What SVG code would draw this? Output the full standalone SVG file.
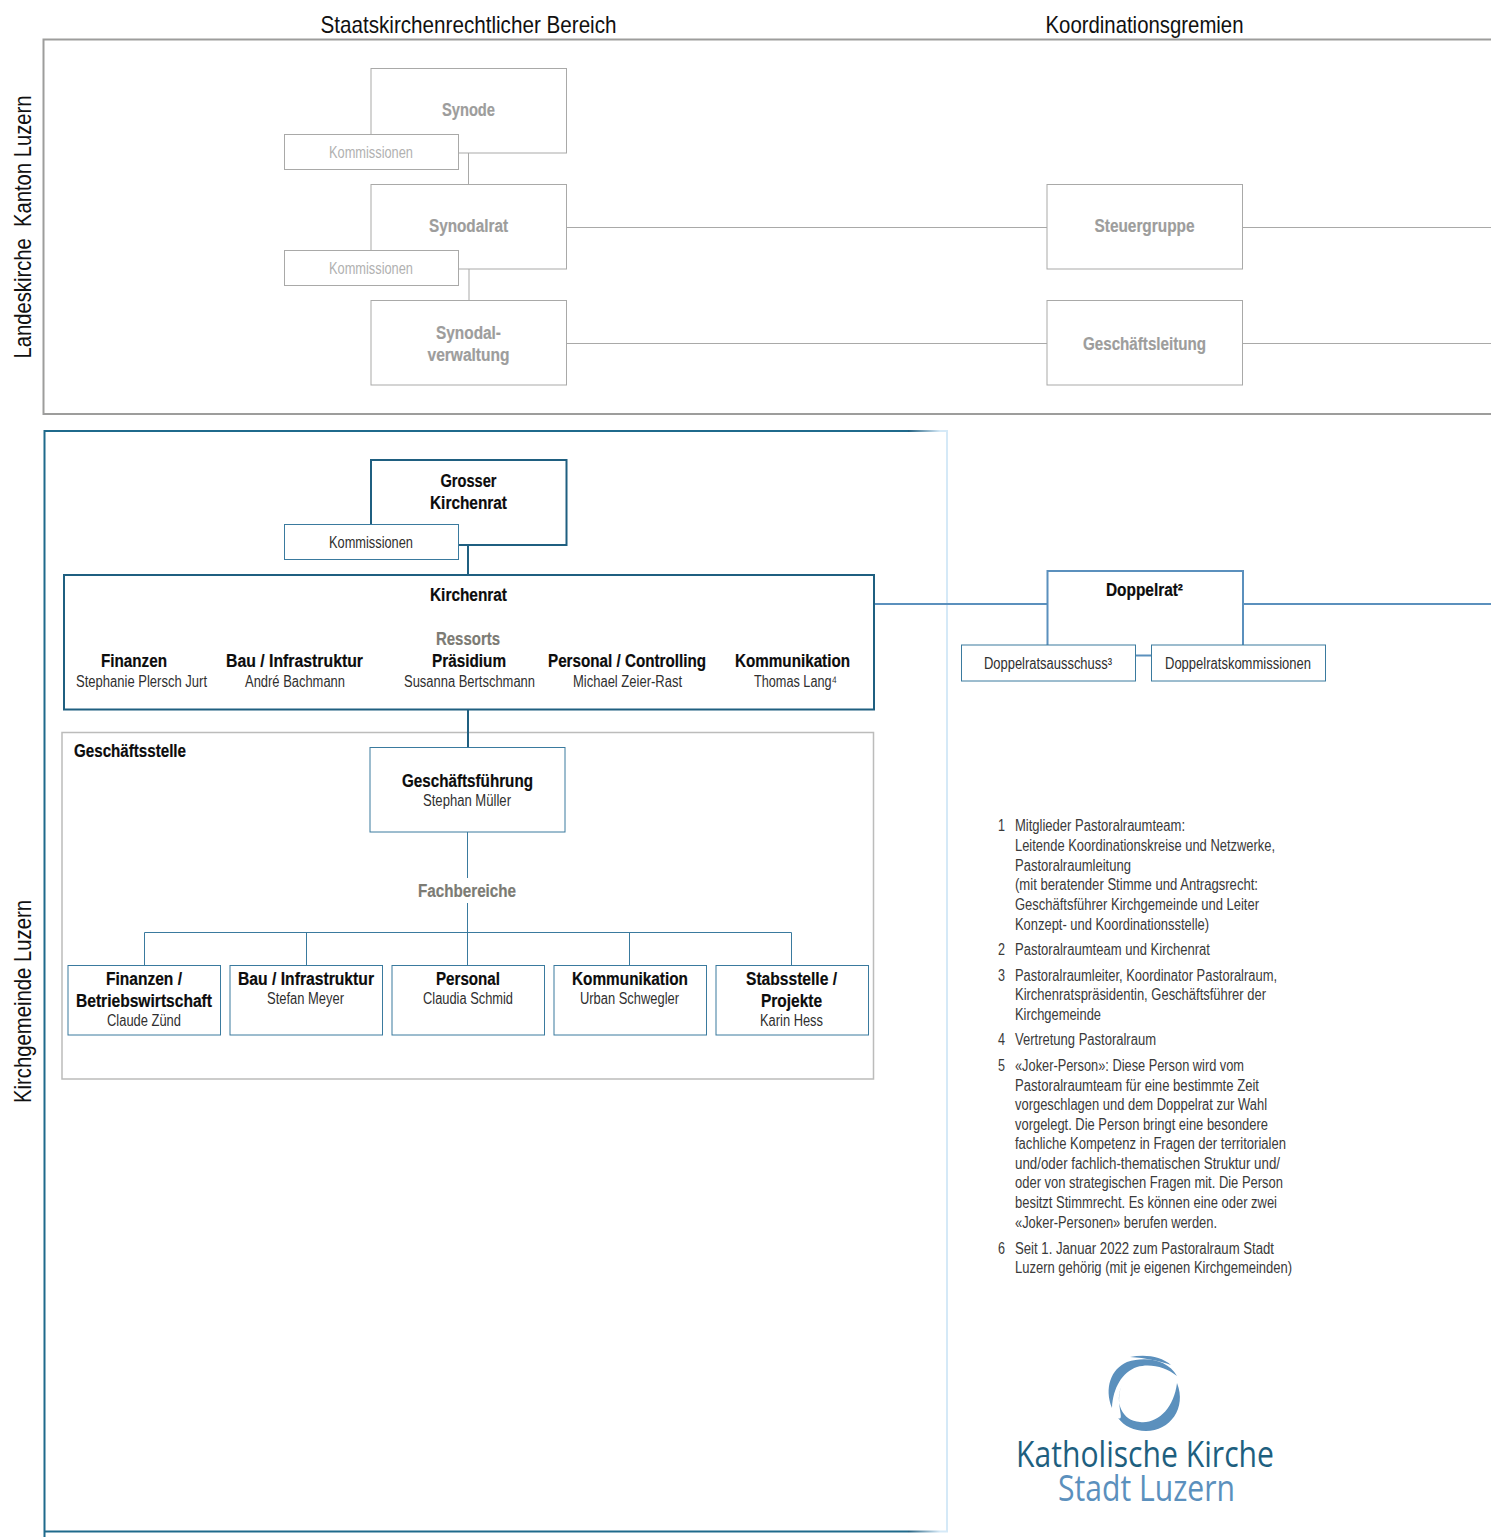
<svg xmlns="http://www.w3.org/2000/svg" width="1491" height="1537" viewBox="0 0 1491 1537">
<style>
text{font-family:"Liberation Sans",Arial,sans-serif;fill:#2f2f2f;font-size:16px;text-anchor:middle}
.t{font-size:24px;fill:#111}
.b{font-weight:bold;font-size:18px;fill:#0c0c0c;stroke:#0c0c0c;stroke-width:.2}
.g{font-weight:bold;font-size:18px;fill:#9d9d9c;stroke:#9d9d9c;stroke-width:.2}
.k{fill:#b1b1b1}
.m{font-weight:bold;font-size:18px;fill:#7c7b74;stroke:#7c7b74;stroke-width:.2}
.n{text-anchor:start;fill:#3a3a3a}
.lg{font-family:"Open Sans","Noto Sans",sans-serif;font-size:36px;fill:#1e5f7f}
.ll{font-family:"Open Sans","Noto Sans",sans-serif;font-size:36px;fill:#5b90bd}
rect{fill:#fff}
.gn{stroke:#a9a9a8;stroke-width:1}
.dk{stroke:#1f5f80;stroke-width:2}
.md{stroke:#3a7a9e;stroke-width:1}
.gs{stroke:#bcbcbb;stroke-width:1.5;fill:#fff}
.c line,.c path{fill:none}
.lgn{stroke:#a9a9a8;stroke-width:1}
.ldk{stroke:#1f5f80;stroke-width:2}
.lmd{stroke:#3a7a9e;stroke-width:1}
.ldr{stroke:#5b90bd;stroke-width:2}
</style>
<defs>
<linearGradient id="fade" gradientUnits="userSpaceOnUse" x1="908" y1="0" x2="940" y2="0">
<stop offset="0" stop-color="#1f5f80"/><stop offset="1" stop-color="#d5e9f7"/>
</linearGradient>
</defs>
<rect width="1491" height="1537"/>

<g id="frames">
<path d="M1491 39.500H43.500V414H1491" fill="none" stroke="#9d9d9c" stroke-width="2"/>
<path d="M947 431V1532" fill="none" stroke="#d5e9f7" stroke-width="2"/>
<path d="M908 431H44.500V1537" fill="none" stroke="#1f6a8c" stroke-width="2"/>
<path d="M44.500 1531.500H908" fill="none" stroke="#1f6a8c" stroke-width="2"/>
<path d="M908 431H948M908 1531.500H948" fill="none" stroke="url(#fade)" stroke-width="2"/>
</g>
<g id="headings">
<text class="t" x="468.500" y="33" textLength="296" lengthAdjust="spacingAndGlyphs">Staatskirchenrechtlicher Bereich</text>
<text class="t" x="1144.500" y="33" textLength="198" lengthAdjust="spacingAndGlyphs">Koordinationsgremien</text>
<text class="t" transform="translate(31,227) rotate(-90)" style="white-space:pre" textLength="263" lengthAdjust="spacingAndGlyphs">Landeskirche  Kanton Luzern</text>
<text class="t" transform="translate(31,1001.500) rotate(-90)" textLength="203" lengthAdjust="spacingAndGlyphs">Kirchgemeinde Luzern</text>
</g>

<g id="node-geschaeftsstelle"><path class="gs" d="M62 732.500H873.500V1079H62Z"/><text class="b" x="130" y="756.500" textLength="112" lengthAdjust="spacingAndGlyphs">Geschäftsstelle</text></g>

<g id="connectors" class="c">
<line class="lgn" x1="468.500" y1="153" x2="468.500" y2="184"/>
<line class="lgn" x1="469" y1="269" x2="469" y2="300"/>
<line class="lgn" x1="566" y1="227.500" x2="1047" y2="227.500"/>
<line class="lgn" x1="566" y1="343.500" x2="1047" y2="343.500"/>
<line class="lgn" x1="1243" y1="227.500" x2="1491" y2="227.500"/>
<line class="lgn" x1="1243" y1="343.500" x2="1491" y2="343.500"/>
<line class="ldk" x1="468" y1="545" x2="468" y2="575"/>
<line class="ldk" x1="468" y1="709" x2="468" y2="748"/>
<line class="ldr" x1="874" y1="604" x2="1047" y2="604"/>
<line class="ldr" x1="1243" y1="604" x2="1491" y2="604"/>
<line class="ldr" x1="1135" y1="655.500" x2="1152" y2="655.500"/>
<line class="lmd" x1="467.500" y1="832" x2="467.500" y2="878"/>
<line class="lmd" x1="467.500" y1="903" x2="467.500" y2="965"/>
<path class="lmd" d="M144.500 965V932.500H791.500V965M306.500 932.500V965M629.500 932.500V965"/>
</g>

<g id="node-synode"><rect class="gn" x="371" y="68.500" width="195.500" height="84.500"/><text class="g" x="468.500" y="116" textLength="53" lengthAdjust="spacingAndGlyphs">Synode</text></g>
<g id="node-kommissionen-1"><rect class="gn" x="284.500" y="134.500" width="174" height="35"/><text class="k" x="371" y="158" textLength="84" lengthAdjust="spacingAndGlyphs">Kommissionen</text></g>
<g id="node-synodalrat"><rect class="gn" x="371" y="184.500" width="195.500" height="84.500"/><text class="g" x="468.500" y="232" textLength="79" lengthAdjust="spacingAndGlyphs">Synodalrat</text></g>
<g id="node-kommissionen-2"><rect class="gn" x="284.500" y="250.500" width="174" height="35"/><text class="k" x="371" y="274" textLength="84" lengthAdjust="spacingAndGlyphs">Kommissionen</text></g>
<g id="node-synodalverwaltung"><rect class="gn" x="371" y="300.500" width="195.500" height="84.500"/><text class="g" x="468.500" y="339" textLength="65" lengthAdjust="spacingAndGlyphs">Synodal-</text><text class="g" x="468.500" y="361" textLength="82" lengthAdjust="spacingAndGlyphs">verwaltung</text></g>
<g id="node-steuergruppe"><rect class="gn" x="1047" y="184.500" width="195.500" height="84.500"/><text class="g" x="1144.500" y="232" textLength="100" lengthAdjust="spacingAndGlyphs">Steuergruppe</text></g>
<g id="node-geschaeftsleitung"><rect class="gn" x="1047" y="300.500" width="195.500" height="84.500"/><text class="g" x="1144.500" y="350" textLength="123" lengthAdjust="spacingAndGlyphs">Geschäftsleitung</text></g>

<g id="node-grosser-kirchenrat"><rect class="dk" x="371" y="460" width="195.500" height="85"/><text class="b" x="468.500" y="487" textLength="56" lengthAdjust="spacingAndGlyphs">Grosser</text><text class="b" x="468.500" y="509" textLength="77" lengthAdjust="spacingAndGlyphs">Kirchenrat</text></g>
<g id="node-kommissionen-3"><rect class="md" x="284.500" y="524.500" width="174" height="35"/><text x="371" y="548" textLength="84" lengthAdjust="spacingAndGlyphs">Kommissionen</text></g>

<g id="node-kirchenrat"><rect class="dk" x="64" y="575" width="810" height="134.500"/>
<text class="b" x="468.500" y="601" textLength="77" lengthAdjust="spacingAndGlyphs">Kirchenrat</text>
<text class="m" x="468" y="645" textLength="64" lengthAdjust="spacingAndGlyphs">Ressorts</text>
<text class="b" x="134" y="667" textLength="66" lengthAdjust="spacingAndGlyphs">Finanzen</text>
<text x="141.500" y="687" textLength="131" lengthAdjust="spacingAndGlyphs">Stephanie Plersch Jurt</text>
<text class="b" x="294.500" y="667" textLength="137" lengthAdjust="spacingAndGlyphs">Bau / Infrastruktur</text>
<text x="295" y="687" textLength="100" lengthAdjust="spacingAndGlyphs">André Bachmann</text>
<text class="b" x="469" y="667" textLength="74" lengthAdjust="spacingAndGlyphs">Präsidium</text>
<text x="469.500" y="687" textLength="131" lengthAdjust="spacingAndGlyphs">Susanna Bertschmann</text>
<text class="b" x="627" y="667" textLength="158" lengthAdjust="spacingAndGlyphs">Personal / Controlling</text>
<text x="627.500" y="687" textLength="109" lengthAdjust="spacingAndGlyphs">Michael Zeier-Rast</text>
<text class="b" x="792.500" y="667" textLength="115" lengthAdjust="spacingAndGlyphs">Kommunikation</text>
<text x="795.500" y="687" textLength="83" lengthAdjust="spacingAndGlyphs">Thomas Lang⁴</text>
</g>

<g id="node-doppelrat"><path d="M1047.500 645V571H1243V645" fill="#fff" stroke="#5b90bd" stroke-width="2"/><text class="b" x="1144.500" y="596" textLength="77" lengthAdjust="spacingAndGlyphs">Doppelrat²</text></g>
<g id="node-doppelratsausschuss"><rect class="md" x="961.500" y="645" width="174" height="36"/><text x="1048" y="669" textLength="128" lengthAdjust="spacingAndGlyphs">Doppelratsausschuss³</text></g>
<g id="node-doppelratskommissionen"><rect class="md" x="1151.500" y="645" width="174" height="36"/><text x="1238" y="669" textLength="146" lengthAdjust="spacingAndGlyphs">Doppelratskommissionen</text></g>

<g id="node-geschaeftsfuehrung"><rect class="md" x="370" y="747.500" width="195" height="84.500"/><text class="b" x="467.500" y="787" textLength="131" lengthAdjust="spacingAndGlyphs">Geschäftsführung</text><text x="467" y="806" textLength="88" lengthAdjust="spacingAndGlyphs">Stephan Müller</text></g>
<g id="label-fachbereiche"><text class="m" x="467" y="897" textLength="98" lengthAdjust="spacingAndGlyphs">Fachbereiche</text></g>

<g id="node-finanzen"><rect class="md" x="68" y="965.500" width="152.500" height="69.500"/><text class="b" x="144" y="985" textLength="76" lengthAdjust="spacingAndGlyphs">Finanzen /</text><text class="b" x="144" y="1007" textLength="136" lengthAdjust="spacingAndGlyphs">Betriebswirtschaft</text><text x="144" y="1026" textLength="74" lengthAdjust="spacingAndGlyphs">Claude Zünd</text></g>
<g id="node-bau"><rect class="md" x="230" y="965.500" width="152.500" height="69.500"/><text class="b" x="306" y="985" textLength="136" lengthAdjust="spacingAndGlyphs">Bau / Infrastruktur</text><text x="305.500" y="1004" textLength="77" lengthAdjust="spacingAndGlyphs">Stefan Meyer</text></g>
<g id="node-personal"><rect class="md" x="392" y="965.500" width="152.500" height="69.500"/><text class="b" x="468" y="985" textLength="64" lengthAdjust="spacingAndGlyphs">Personal</text><text x="468" y="1004" textLength="90" lengthAdjust="spacingAndGlyphs">Claudia Schmid</text></g>
<g id="node-kommunikation"><rect class="md" x="554" y="965.500" width="152.500" height="69.500"/><text class="b" x="630" y="985" textLength="116" lengthAdjust="spacingAndGlyphs">Kommunikation</text><text x="629.500" y="1004" textLength="99" lengthAdjust="spacingAndGlyphs">Urban Schwegler</text></g>
<g id="node-stabsstelle"><rect class="md" x="716" y="965.500" width="152.500" height="69.500"/><text class="b" x="791.500" y="985" textLength="91" lengthAdjust="spacingAndGlyphs">Stabsstelle /</text><text class="b" x="791.500" y="1007" textLength="61" lengthAdjust="spacingAndGlyphs">Projekte</text><text x="791.500" y="1026" textLength="63" lengthAdjust="spacingAndGlyphs">Karin Hess</text></g>

<g id="notes">
<text class="n" x="998" y="831" textLength="7" lengthAdjust="spacingAndGlyphs">1</text>
<text class="n" x="1015" y="831" textLength="170" lengthAdjust="spacingAndGlyphs">Mitglieder Pastoralraumteam:</text>
<text class="n" x="1015" y="851" textLength="260" lengthAdjust="spacingAndGlyphs">Leitende Koordinationskreise und Netzwerke,</text>
<text class="n" x="1015" y="871" textLength="116" lengthAdjust="spacingAndGlyphs">Pastoralraumleitung</text>
<text class="n" x="1015" y="890" textLength="243" lengthAdjust="spacingAndGlyphs">(mit beratender Stimme und Antragsrecht:</text>
<text class="n" x="1015" y="910" textLength="244" lengthAdjust="spacingAndGlyphs">Geschäftsführer Kirchgemeinde und Leiter</text>
<text class="n" x="1015" y="930" textLength="194" lengthAdjust="spacingAndGlyphs">Konzept- und Koordinationsstelle)</text>
<text class="n" x="998" y="955" textLength="7" lengthAdjust="spacingAndGlyphs">2</text>
<text class="n" x="1015" y="955" textLength="195" lengthAdjust="spacingAndGlyphs">Pastoralraumteam und Kirchenrat</text>
<text class="n" x="998" y="981" textLength="7" lengthAdjust="spacingAndGlyphs">3</text>
<text class="n" x="1015" y="981" textLength="262" lengthAdjust="spacingAndGlyphs">Pastoralraumleiter, Koordinator Pastoralraum,</text>
<text class="n" x="1015" y="1000" textLength="251" lengthAdjust="spacingAndGlyphs">Kirchenratspräsidentin, Geschäftsführer der</text>
<text class="n" x="1015" y="1020" textLength="86" lengthAdjust="spacingAndGlyphs">Kirchgemeinde</text>
<text class="n" x="998" y="1045" textLength="7" lengthAdjust="spacingAndGlyphs">4</text>
<text class="n" x="1015" y="1045" textLength="141" lengthAdjust="spacingAndGlyphs">Vertretung Pastoralraum</text>
<text class="n" x="998" y="1071" textLength="7" lengthAdjust="spacingAndGlyphs">5</text>
<text class="n" x="1015" y="1071" textLength="229" lengthAdjust="spacingAndGlyphs">«Joker-Person»: Diese Person wird vom</text>
<text class="n" x="1015" y="1091" textLength="244" lengthAdjust="spacingAndGlyphs">Pastoralraumteam für eine bestimmte Zeit</text>
<text class="n" x="1015" y="1110" textLength="252" lengthAdjust="spacingAndGlyphs">vorgeschlagen und dem Doppelrat zur Wahl</text>
<text class="n" x="1015" y="1130" textLength="253" lengthAdjust="spacingAndGlyphs">vorgelegt. Die Person bringt eine besondere</text>
<text class="n" x="1015" y="1149" textLength="271" lengthAdjust="spacingAndGlyphs">fachliche Kompetenz in Fragen der territorialen</text>
<text class="n" x="1015" y="1169" textLength="265" lengthAdjust="spacingAndGlyphs">und/oder fachlich-thematischen Struktur und/</text>
<text class="n" x="1015" y="1188" textLength="268" lengthAdjust="spacingAndGlyphs">oder von strategischen Fragen mit. Die Person</text>
<text class="n" x="1015" y="1208" textLength="262" lengthAdjust="spacingAndGlyphs">besitzt Stimmrecht. Es können eine oder zwei</text>
<text class="n" x="1015" y="1228" textLength="202" lengthAdjust="spacingAndGlyphs">«Joker-Personen» berufen werden.</text>
<text class="n" x="998" y="1254" textLength="7" lengthAdjust="spacingAndGlyphs">6</text>
<text class="n" x="1015" y="1254" textLength="259" lengthAdjust="spacingAndGlyphs">Seit 1. Januar 2022 zum Pastoralraum Stadt</text>
<text class="n" x="1015" y="1273" textLength="277" lengthAdjust="spacingAndGlyphs">Luzern gehörig (mit je eigenen Kirchgemeinden)</text>
</g>

<g id="logo">
<path fill="#5b90bd" d="M1112 1408C1104 1388 1111 1369 1127 1362C1146 1356 1168 1360 1177 1376C1166 1367 1150 1363 1137 1367C1122 1372 1113 1388 1112 1408Z"/>
<path fill="#5b90bd" d="M1130 1357C1145 1354 1161 1356 1171 1365C1160 1361 1146 1358 1130 1357Z"/>
<path fill="#5b90bd" d="M1122 1385C1114 1402 1122 1421 1140 1422C1158 1424 1174 1408 1177 1383C1187 1408 1170 1431 1146 1431C1134 1431 1124 1426 1118 1418C1126 1422 1114 1402 1122 1385Z"/>
<text class="lg" x="1145" y="1467" textLength="258" lengthAdjust="spacingAndGlyphs">Katholische Kirche</text>
<text class="ll" x="1146.500" y="1501" textLength="177" lengthAdjust="spacingAndGlyphs">Stadt Luzern</text>
</g>
</svg>
